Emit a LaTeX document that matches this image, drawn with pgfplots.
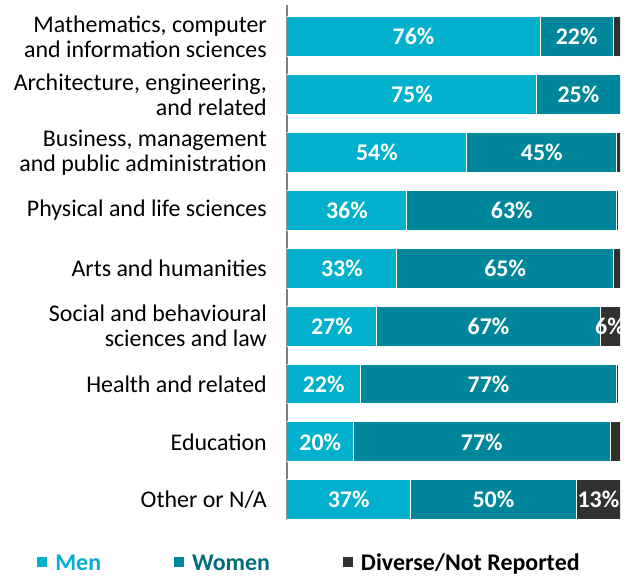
\documentclass[border=0pt]{standalone}
\usepackage{pgfplots}
\pgfplotsset{compat=1.18}
\usepackage{pgfplotstable}
\usepackage{fontspec}
\setmainfont{Carlito}

\definecolor{menc}{HTML}{00B0CC}
\definecolor{womenc}{HTML}{00869A}
\definecolor{divc}{HTML}{333130}
\definecolor{womentxt}{HTML}{006B7A}

% shares in percent; dlab = label on the diverse segment
\pgfplotstableread{
y men women div dlab
0 76 22 2   {}
1 75 25 0   {}
2 54 45 1   {}
3 36 63 0.4 {}
4 33 65 2   {}
5 27 67 6   6\%
6 22 77 0.4 {}
7 20 77 3   {}
8 37 50 13  13\%
}\data

\tikzset{
  lab/.style={anchor=center, text=white, inner sep=0pt,
    font=\bfseries\fontsize{24}{26}\selectfont},
}

\begin{document}
\begin{tikzpicture}
\begin{axis}[
  xbar stacked,
  scale only axis,
  width=333bp, height=515bp,
  xmin=0, xmax=100,
  ymin=-0.55, ymax=8.35,
  y dir=reverse,
  bar width=0.69,
  axis x line=none,
  axis y line*=left,
  y axis line style={draw=gray, line width=1.6pt, -},
  ytick={0,...,8},
  yticklabels={
    {Mathematics, computer\\and information sciences},
    {Architecture, engineering,\\and related},
    {Business, management\\and public administration},
    {Physical and life sciences},
    {Arts and humanities},
    {Social and behavioural\\sciences and law},
    {Health and related},
    {Education},
    {Other or N/A}},
  yticklabel style={align=right, inner sep=0pt, xshift=-20bp,
    font=\fontsize{24}{25}\selectfont},
  major tick length=0pt,
  legend style={draw=none, fill=none, at={(0.063,-0.0835)}, anchor=center,
    legend columns=3, font=\bfseries\fontsize{24}{26}\selectfont,
    nodes={inner sep=0pt},
    /tikz/every odd column/.append style={column sep=7bp},
    /tikz/every even column/.append style={column sep=72bp}},
  legend image code/.code={\fill[#1] (0bp,-4bp) rectangle (11bp,7bp);},
]
\addplot[fill=menc, draw=white, line width=1pt,
  point meta=explicit symbolic,
  nodes near coords={\pgfplotspointmeta\%},
  every node near coord/.append style={lab}]
  table[x=men, y=y, meta=men] {\data};
\addlegendentry{\textcolor{menc}{Men}}
\addplot[fill=womenc, draw=white, line width=1pt,
  point meta=explicit symbolic,
  nodes near coords={\pgfplotspointmeta\%},
  every node near coord/.append style={lab}]
  table[x=women, y=y, meta=women] {\data};
\addlegendentry{\textcolor{womentxt}{Women}}
\addplot[fill=divc, draw=white, line width=1pt,
  point meta=explicit symbolic,
  nodes near coords,
  every node near coord/.append style={lab}]
  table[x=div, y=y, meta=dlab] {\data};
\addlegendentry{\textcolor{black}{Diverse/Not Reported}}
\end{axis}
\pgfresetboundingbox
\path (current axis.south west) ++(-287bp,-57bp) rectangle ++(635bp,577bp);
\end{tikzpicture}
\end{document}
